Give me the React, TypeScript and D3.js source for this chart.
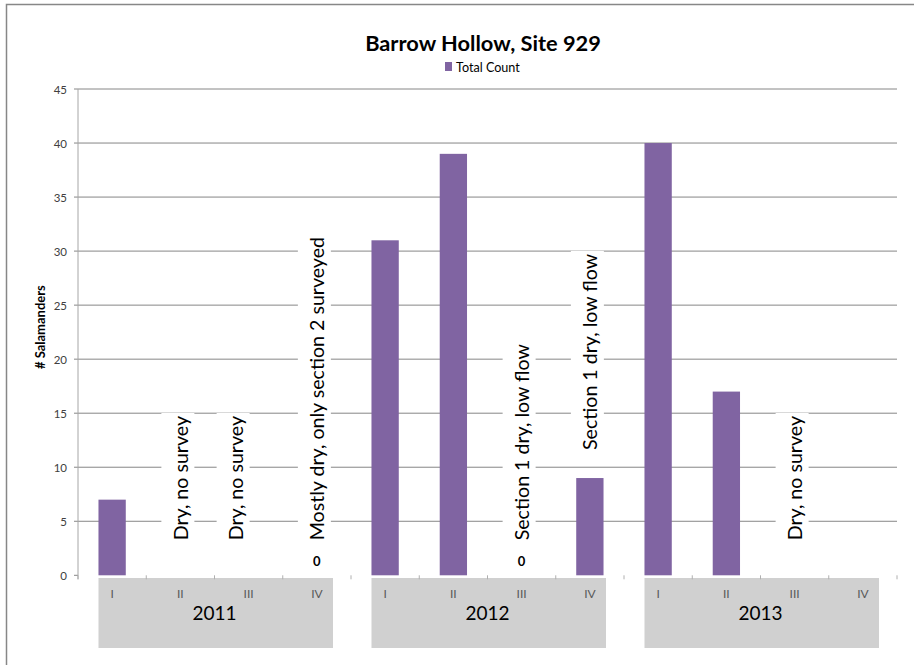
import React, { useLayoutEffect, useRef, useState } from "react";
import * as d3 from "d3";

const years = ["2011", "2012", "2013"];
const quarters = ["I", "II", "III", "IV"];
const counts: (number | null)[] = [7, null, null, 0, 31, 39, 0, 9, 40, 17, null, null];
const notes: (string | null)[] = [
  null,
  "Dry, no survey",
  "Dry, no survey",
  "Mostly dry, only section 2 surveyed",
  null,
  null,
  "Section 1 dry, low flow",
  "Section 1 dry, low flow",
  null,
  null,
  "Dry, no survey",
  null,
];
const noteShift = [0, 0, -13, 0, 0, 0, 0, 0, 0, 0, 0, 0];
const yTicks = [0, 5, 10, 15, 20, 25, 30, 35, 40, 45];

const W = 914;
const H = 665;
const left = 78;
const right = 897;
const top = 89;
const bottom = 575.3;
const FONT = "Lato, 'Open Sans', sans-serif";
const PURPLE = "#8064A2";
const GRID = "#868686";

function Note({ x, y, text }: { x: number; y: number; text: string }) {
  const ref = useRef<SVGTextElement>(null);
  const [len, setLen] = useState(0);
  useLayoutEffect(() => {
    if (ref.current) setLen(ref.current.getComputedTextLength());
  }, [text]);
  return (
    <g transform={`translate(${x},${y}) rotate(-90)`}>
      {len > 0 && <rect x={-3} y={-19} width={len + 6} height={33} fill="#ffffff" />}
      <text ref={ref} x={0} y={0} dominantBaseline="central" fontFamily={FONT} fontSize={19.6} fill="#000">
        {text}
      </text>
    </g>
  );
}

export default function App() {
  const idx = d3.range(years.length * quarters.length);
  const x = d3
    .scaleBand<number>()
    .domain(idx)
    .range([left, right])
    .paddingInner(0.6)
    .paddingOuter(0.3);
  const step = x.step();
  const y = d3.scaleLinear().domain([0, 45]).range([bottom, top]);
  const cx = (i: number) => (x(i) as number) + x.bandwidth() / 2;
  const boundary = (i: number) => left + i * step;

  return (
    <svg
      width={W}
      height={H}
      viewBox={`0 0 ${W} ${H}`}
      style={{ position: "absolute", left: 0, top: 0, display: "block", background: "#fff" }}
    >
      <rect x={0} y={0} width={W} height={H} fill="#fff" />
      <path d={`M6.5,${H + 10} V4.5 H${W + 10}`} fill="none" stroke="#878787" strokeWidth={1.5} />

      {/* title & legend */}
      <text x={483} y={42} textAnchor="middle" dominantBaseline="central" fontFamily={FONT} fontWeight="bold" fontSize={21.8} fill="#000">
        Barrow Hollow, Site 929
      </text>
      <rect x={445} y={62} width={7} height={9} fill={PURPLE} />
      <text x={456} y={67} dominantBaseline="central" fontFamily={FONT} fontSize={12.6} fill="#000">
        Total Count
      </text>

      {/* gridlines */}
      {yTicks
        .filter((t) => t > 0)
        .map((t) => (
          <line key={t} x1={left - 4} x2={right} y1={y(t)} y2={y(t)} stroke={GRID} strokeWidth={1} />
        ))}
      <line x1={left - 4} x2={left} y1={y(0)} y2={y(0)} stroke={GRID} strokeWidth={1} />
      {/* y axis */}
      <line x1={left} x2={left} y1={top} y2={bottom + 4} stroke="#a6a6a6" strokeWidth={1} />
      {yTicks.map((t) => (
        <text key={t} x={67} y={y(t)} textAnchor="end" dominantBaseline="central" fontFamily={FONT} fontSize={11.5} fill="#404040">
          {t}
        </text>
      ))}
      <text
        transform={`translate(40,${(top + bottom) / 2 - 5}) rotate(-90)`}
        textAnchor="middle"
        dominantBaseline="central"
        fontFamily={FONT}
        fontWeight="bold"
        fontSize={13}
        fill="#000"
      >
        # Salamanders
      </text>

      {/* category axis boxes */}
      {years.map((yr, g) => {
        const gx0 = boundary(g * 4);
        const gx1 = boundary(g * 4 + 4);
        return (
          <g key={yr}>
            <rect x={gx0 + 20.5} y={578} width={gx1 - gx0 - 38.5} height={70} fill="#d0d0d0" />
            <text x={(gx0 + gx1) / 2} y={612} textAnchor="middle" dominantBaseline="central" fontFamily={FONT} fontSize={19} fill="#000">
              {yr}
            </text>
          </g>
        );
      })}
      {idx.map((i) => (
        <text key={"q" + i} x={cx(i)} y={593} textAnchor="middle" dominantBaseline="central" fontFamily={FONT} fontSize={12} fill="#595959">
          {quarters[i % 4]}
        </text>
      ))}
      {d3.range(13).map((i) => (
        <line key={"t" + i} x1={boundary(i)} x2={boundary(i)} y1={bottom} y2={bottom + 4} stroke="#b0b0b0" strokeWidth={1} />
      ))}

      {/* bars */}
      {idx.map((i) =>
        counts[i] !== null && (counts[i] as number) > 0 ? (
          <rect
            key={"b" + i}
            x={x(i)}
            y={y(counts[i] as number)}
            width={x.bandwidth()}
            height={y(0) - y(counts[i] as number)}
            fill={PURPLE}
          />
        ) : null
      )}

      {/* zero labels */}
      {idx.map((i) =>
        counts[i] === 0 ? (
          <text key={"z" + i} x={cx(i)} y={561} textAnchor="middle" dominantBaseline="central" fontFamily={FONT} fontWeight="bold" fontSize={13} fill="#000">
            0
          </text>
        ) : null
      )}

      {/* notes */}
      {idx.map((i) => {
        const n = notes[i];
        if (!n) return null;
        const v = counts[i];
        const base = v !== null && v > 0 ? y(v) - 28 : y(0) - 35;
        return <Note key={"n" + i} x={cx(i) + noteShift[i]} y={base} text={n} />;
      })}
    </svg>
  );
}
